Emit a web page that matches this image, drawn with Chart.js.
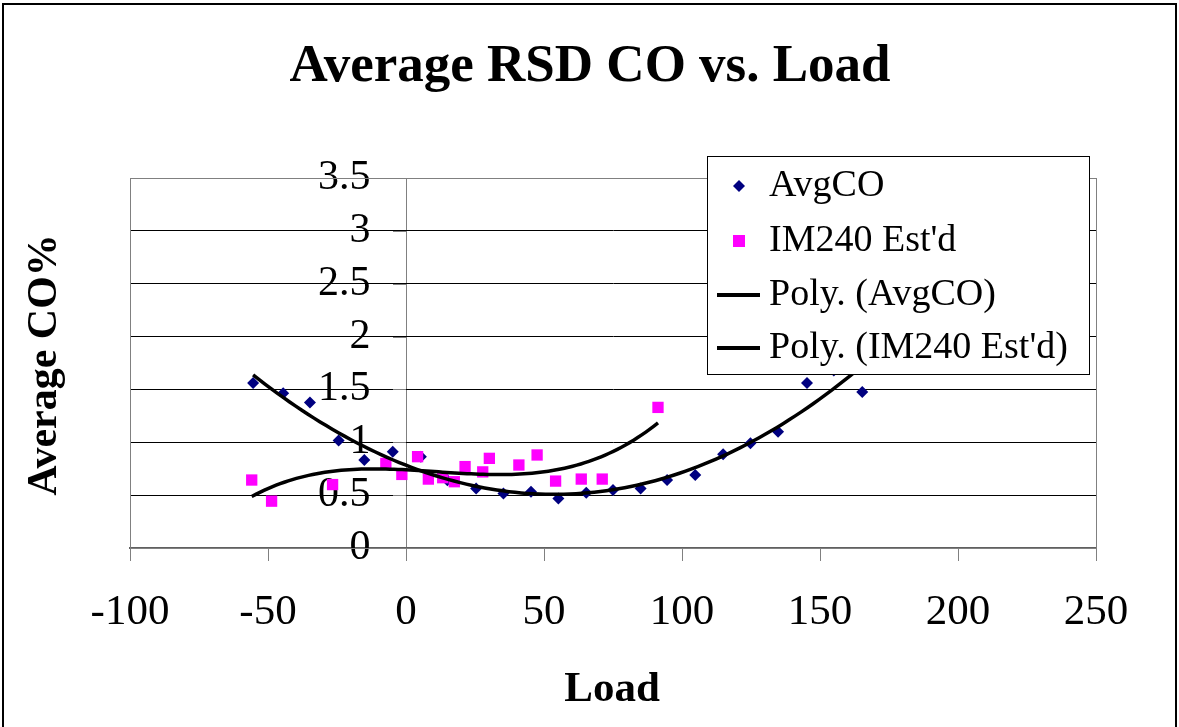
<!DOCTYPE html>
<html>
<head>
<meta charset="utf-8">
<script src="https://cdn.jsdelivr.net/npm/chart.js@4.4.1/dist/chart.umd.min.js"></script>
<style>
html, body { margin: 0; padding: 0; background: #fff; }
</style>
</head>
<body>
<canvas id="myChart" width="1179" height="727"></canvas>
<script>
// values
var avgLoad = [-55.4, -44.5, -34.8, -24.4, -15.1, -4.8, 5.4, 15, 25.4, 35.3, 45.3, 55.2, 65.3, 75, 85, 94.6, 104.8, 114.9, 124.8, 134.8, 145.3, 155, 165.3];
var avgCO   = [1.56, 1.465, 1.377, 1.016, 0.833, 0.91, 0.864, 0.64, 0.563, 0.516, 0.532, 0.468, 0.522, 0.548, 0.563, 0.643, 0.69, 0.886, 0.99, 1.1, 1.56, 1.68, 1.475];
var imLoad  = [-55.9, -48.7, -26.6, -7.3, -1.5, 4.2, 8.1, 13.3, 17.5, 21.4, 27.8, 30.2, 40.9, 47.5, 54.2, 63.5, 71.1, 91.3];
var imCO    = [0.643, 0.443, 0.6, 0.8, 0.696, 0.864, 0.652, 0.665, 0.627, 0.77, 0.72, 0.848, 0.785, 0.88, 0.633, 0.652, 0.652, 1.33];
var xTicks = [-100, -50, 0, 50, 100, 150, 200, 250];
var yTicks = [0, 0.5, 1, 1.5, 2, 2.5, 3, 3.5];

var seriesNames = ['AvgCO', "IM240 Est'd", 'Poly. (AvgCO)', "Poly. (IM240 Est'd)"];
var trendOrder = 3;

// least squares polynomial, like Excel's polynomial trendline
function polyFit(xs, ys, deg) {
    var m = deg + 1, A = [], i, j, k;
    for (i = 0; i < m; i++) {
        A.push([]);
        for (j = 0; j <= m; j++) A[i].push(0);
    }
    for (k = 0; k < xs.length; k++) {
        for (i = 0; i < m; i++) {
            for (j = 0; j < m; j++) A[i][j] += Math.pow(xs[k], i + j);
            A[i][m] += Math.pow(xs[k], i) * ys[k];
        }
    }
    for (var c = 0; c < m; c++) {
        for (var r = c + 1; r < m; r++) {
            var f = A[r][c] / A[c][c];
            for (k = c; k <= m; k++) A[r][k] -= f * A[c][k];
        }
    }
    var b = [];
    for (i = 0; i < m; i++) b.push(0);
    for (var r2 = m - 1; r2 >= 0; r2--) {
        var v = A[r2][m];
        for (k = r2 + 1; k < m; k++) v -= A[r2][k] * b[k];
        b[r2] = v / A[r2][r2];
    }
    return b;
}

function trendPoints(xs, ys) {
    var b = polyFit(xs, ys, trendOrder);
    var lo = Math.min.apply(null, xs), hi = Math.max.apply(null, xs);
    var pts = [];
    for (var i = 0; i <= 100; i++) {
        var x = lo + (hi - lo) * i / 100, y = 0;
        for (var k = b.length - 1; k >= 0; k--) y = y * x + b[k];
        pts.push({x: x, y: y});
    }
    return pts;
}

function toPoints(xs, ys) {
    var pts = [];
    for (var i = 0; i < xs.length; i++) pts.push({x: xs[i], y: ys[i]});
    return pts;
}

var serif = "'Liberation Serif', 'Times New Roman', serif";

var decor = {
    id: 'decor',
    beforeDraw: function(chart) {
        var ctx = chart.ctx;
        ctx.save();
        ctx.fillStyle = '#fff';
        ctx.fillRect(0, 0, chart.width, chart.height);
        ctx.restore();
    },
    beforeDatasetsDraw: function(chart) {
        var ctx = chart.ctx, a = chart.chartArea;
        var x0 = chart.scales.x.getPixelForValue(0);
        ctx.save();
        ctx.strokeStyle = '#808080';
        ctx.lineWidth = 1;
        ctx.strokeRect(a.left + 0.5, a.top + 0.5, a.right - a.left, a.bottom - a.top);
        // little ticks left of the y axis at x = 0
        ctx.beginPath();
        yTicks.forEach(function(v) {
            var py = Math.round(chart.scales.y.getPixelForValue(v)) + 0.5;
            ctx.moveTo(x0 - 13, py);
            ctx.lineTo(x0, py);
        });
        ctx.stroke();
        ctx.restore();
    },
    afterDraw: function(chart) {
        var ctx = chart.ctx;
        ctx.save();
        // outer frame
        ctx.strokeStyle = '#000';
        ctx.lineWidth = 2;
        ctx.strokeRect(3, 4, 1173, 740);

        ctx.fillStyle = '#000';
        ctx.textAlign = 'center';
        ctx.textBaseline = 'alphabetic';
        ctx.font = 'bold 53px ' + serif;
        ctx.fillText('Average RSD CO vs. Load', 590, 81);
        ctx.font = 'bold 43px ' + serif;
        ctx.fillText('Load', 612, 701);
        ctx.save();
        ctx.translate(45, 365);
        ctx.rotate(-Math.PI / 2);
        ctx.textBaseline = 'middle';
        ctx.font = 'bold 42px ' + serif;
        ctx.fillText('Average CO%', 0, 0);
        ctx.restore();

        // legend box
        ctx.fillStyle = '#fff';
        ctx.fillRect(707, 156, 382, 218);
        ctx.strokeStyle = '#000';
        ctx.lineWidth = 1;
        ctx.strokeRect(707.5, 156.5, 382, 218);
        var rows = [186, 241, 295, 348];
        ctx.font = '38px ' + serif;
        ctx.textAlign = 'left';
        ctx.textBaseline = 'middle';
        rows.forEach(function(ry, i) {
            var ds = chart.data.datasets[i];
            if (i === 0) {
                ctx.fillStyle = ds.backgroundColor;
                ctx.beginPath();
                ctx.moveTo(739 - 6, ry); ctx.lineTo(739, ry - 6);
                ctx.lineTo(739 + 6, ry); ctx.lineTo(739, ry + 6);
                ctx.closePath(); ctx.fill();
            } else if (i === 1) {
                ctx.fillStyle = ds.backgroundColor;
                ctx.fillRect(733, ry - 6, 12, 12);
            } else {
                ctx.strokeStyle = ds.borderColor;
                ctx.lineWidth = 4;
                ctx.beginPath();
                ctx.moveTo(717, ry); ctx.lineTo(760, ry);
                ctx.stroke();
            }
            ctx.fillStyle = '#000';
            ctx.fillText(ds.label, 769, ry);
        });
        ctx.restore();
    }
};

var ctx = document.getElementById('myChart');
var chart = new Chart(ctx, {
    type: 'scatter',
    data: {
        datasets: [
            {
                label: seriesNames[0],
                data: toPoints(avgLoad, avgCO),
                pointStyle: 'rectRot',
                pointRadius: 6,
                borderWidth: 0,
                backgroundColor: '#000080',
                borderColor: '#000080',
                order: 3
            },
            {
                label: seriesNames[1],
                data: toPoints(imLoad, imCO),
                pointStyle: 'rect',
                pointRadius: 8,
                borderWidth: 0,
                backgroundColor: '#FF00FF',
                borderColor: '#FF00FF',
                order: 2
            },
            {
                label: seriesNames[2],
                data: trendPoints(avgLoad, avgCO),
                showLine: true,
                pointRadius: 0,
                borderColor: '#000',
                backgroundColor: '#000',
                borderWidth: 3.5,
                fill: false,
                order: 1
            },
            {
                label: seriesNames[3],
                data: trendPoints(imLoad, imCO),
                showLine: true,
                pointRadius: 0,
                borderColor: '#000',
                backgroundColor: '#000',
                borderWidth: 3.5,
                fill: false,
                order: 0
            }
        ]
    },
    options: {
        responsive: false,
        animation: false,
        devicePixelRatio: 1,
        layout: { padding: { left: 0, top: 178, right: 83, bottom: 0 } },
        plugins: {
            legend: { display: false },
            title: { display: false },
            tooltip: { enabled: false }
        },
        scales: {
            x: {
                type: 'linear',
                position: 'bottom',
                min: -100,
                max: 250,
                afterBuildTicks: function(s) { s.ticks = xTicks.map(function(v) { return {value: v}; }); },
                afterFit: function(s) { s.height = 179; },
                grid: {
                    drawOnChartArea: true,
                    color: function(c) { return (c.tick && c.tick.value === 0) ? '#808080' : 'rgba(0,0,0,0)'; },
                    tickColor: '#808080',
                    tickLength: 13,
                    lineWidth: 1
                },
                border: { color: '#606060', width: 2 },
                ticks: {
                    color: '#000',
                    font: { family: serif, size: 43 },
                    padding: 26,
                    maxRotation: 0,
                    autoSkip: false
                }
            },
            y: {
                type: 'linear',
                position: 'left',
                min: 0,
                max: 3.5,
                afterBuildTicks: function(s) { s.ticks = yTicks.map(function(v) { return {value: v}; }); },
                afterFit: function(s) {
                    s.width = 130;
                    s.paddingTop = 0;
                    s.paddingBottom = 0;
                },
                grid: {
                    color: '#000',
                    lineWidth: 1,
                    drawTicks: false
                },
                border: { color: '#808080', width: 1 },
                ticks: {
                    mirror: true,
                    crossAlign: 'far',
                    autoSkip: false,
                    color: '#000',
                    font: { family: serif, size: 42 },
                    padding: 188,
                    callback: function(v) { return String(v); }
                }
            }
        }
    },
    plugins: [decor]
});
</script>
</body>
</html>
